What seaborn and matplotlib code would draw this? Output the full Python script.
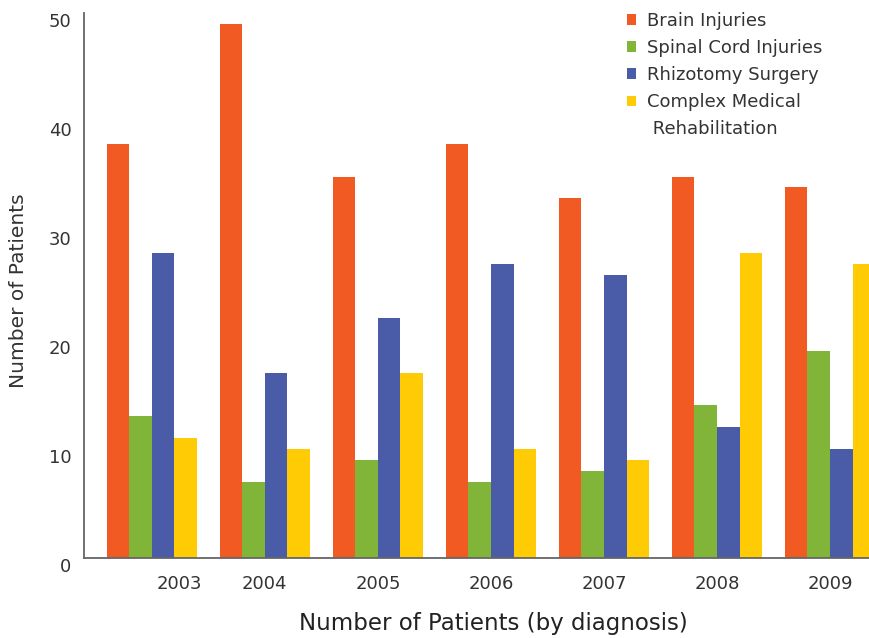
import numpy as np
import pandas as pd
import matplotlib
matplotlib.use("Agg")
import matplotlib.pyplot as plt
import matplotlib.transforms as mtransforms
from matplotlib.patches import Patch
import seaborn as sns

# data
years = ["2003", "2004", "2005", "2006", "2007", "2008", "2009"]
diagnoses = ["Brain Injuries", "Spinal Cord Injuries", "Rhizotomy Surgery",
             "Complex Medical Rehabilitation"]
brain = [38, 49, 35, 38, 33, 35, 34]
spinal = [13, 7, 9, 7, 8, 14, 19]
rhizotomy = [28, 17, 22, 27, 26, 12, 10]
complex_med = [11, 10, 17, 10, 9, 28, 27]
colors = ["#F15A22", "#80B53A", "#4A5BA8", "#FFCB05"]

#build long-form table for seaborn
rows = []
for name, vals in zip(diagnoses, [brain, spinal, rhizotomy, complex_med]):
    for yr, v in zip(years, vals):
        rows.append({"Year": yr, "Diagnosis": name, "Patients": v})
df = pd.DataFrame(rows)

sns.set_style("white")
plt.rcParams["font.family"] = ["DejaVu Sans"]

fig = plt.figure(figsize=(8.69, 6.38), dpi=100)
ax = fig.add_axes([84 / 869, 80 / 638, 785 / 869, 545 / 638])

sns.barplot(data=df, x="Year", y="Patients", hue="Diagnosis", order=years,
            hue_order=diagnoses, palette=colors, saturation=1, width=0.8,
            errorbar=None, linewidth=0, legend=False, ax=ax)

ax.set_xlim(-0.6, 6.345)
ax.set_ylim(0, 50)
ax.set_yticks([0, 10, 20, 30, 40, 50])

sns.despine(ax=ax)
for s in ["left", "bottom"]:
    ax.spines[s].set_color("#666666")
    ax.spines[s].set_linewidth(1.3)

ax.tick_params(axis="both", length=0, labelsize=13, labelcolor="#333333")
ax.tick_params(axis="x", pad=12)
ax.tick_params(axis="y", pad=9)

# y labels sit a bit below their values in the original
down = mtransforms.ScaledTranslation(0, -7 / 100, fig.dpi_scale_trans)
for lab in ax.get_yticklabels():
    lab.set_transform(lab.get_transform() + down)
# the 2003 label is shifted right
right = mtransforms.ScaledTranslation(28 / 100, 0, fig.dpi_scale_trans)
first = ax.get_xticklabels()[0]
first.set_transform(first.get_transform() + right)

ax.set_xlabel("Number of Patients (by diagnosis)", fontsize=16.5, color="#222222")
ax.xaxis.set_label_coords(0.521, -0.099)
ax.set_ylabel("Number of Patients", fontsize=14.5, color="#333333")
ax.yaxis.set_label_coords(-0.071, 0.49)

# legend: last label wraps onto a second row with no marker
handles = [Patch(facecolor=c, edgecolor="none") for c in colors]
labels = diagnoses[:3] + ["Complex Medical"]
handles.append(Patch(facecolor="none", edgecolor="none"))
labels.append("Rehabilitation")
leg = ax.legend(handles, labels, loc="upper left",
                bbox_to_anchor=(627 / 869, 1 - 12 / 638), bbox_transform=fig.transFigure,
                frameon=False, fontsize=13, labelcolor="#333333",
                handlelength=0.5, handleheight=0.5, handletextpad=0.6,
                labelspacing=0.5, borderpad=0, borderaxespad=0)
# nudge the wrapped line slightly right like the original
leg.get_texts()[-1].set_text(" Rehabilitation")

fig.savefig("out.png", dpi=100)
